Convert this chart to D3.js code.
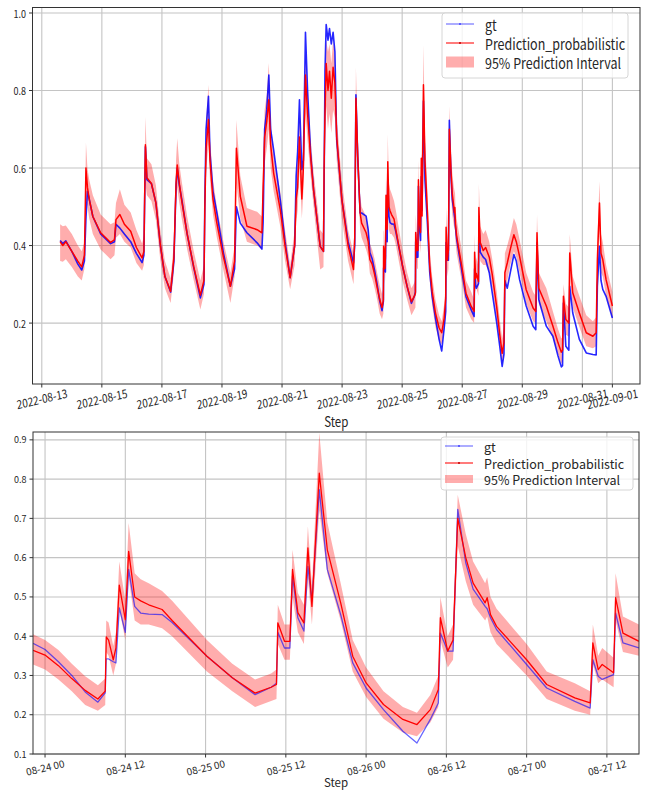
<!DOCTYPE html>
<html>
<head>
<meta charset="utf-8">
<script src="https://cdn.jsdelivr.net/npm/d3@7/dist/d3.min.js"></script>
<style>
  body { margin: 0; background: #fff; }
  svg { display: block; font-family: "Noto Sans CJK KR", "Noto Sans", sans-serif; }
</style>
</head>
<body>
<svg width="648" height="790"></svg>
<script>
// whole period, part 1: days since 2022-08-13 00:00
const earlyDays = [0.61, 0.70, 0.80, 1.00, 1.20, 1.33, 1.42, 1.47, 1.52, 1.58, 1.70, 1.96, 2.29, 2.42, 2.47, 2.60, 2.75, 2.96, 3.15, 3.34,
  3.40, 3.45, 3.50, 3.65, 3.80, 3.95, 4.10, 4.29, 4.40, 4.47, 4.51, 4.58, 4.66, 4.84, 5.06, 5.28, 5.40, 5.43, 5.47, 5.55,
  5.60, 5.70, 5.83, 6.05, 6.28, 6.42, 6.48, 6.61, 6.83, 7.17, 7.33, 7.37, 7.42, 7.49, 7.56, 7.62, 7.72, 7.94, 8.10, 8.27,
  8.42, 8.47, 8.52, 8.58, 8.66, 8.71, 8.78, 8.85, 8.95, 9.05, 9.27, 9.38, 9.40, 9.43, 9.47, 9.53, 9.58, 9.64, 9.70, 9.76,
  9.82, 9.99, 10.20, 10.38, 10.42, 10.46, 10.52, 10.60, 10.65, 10.80, 10.87];
const earlyGt = [0.413, 0.405, 0.412, 0.385, 0.352, 0.337, 0.360, 0.470, 0.540, 0.520, 0.475, 0.430, 0.405, 0.410, 0.455, 0.445, 0.430, 0.410, 0.380, 0.356,
  0.375, 0.655, 0.570, 0.560, 0.510, 0.400, 0.320, 0.280, 0.360, 0.550, 0.600, 0.555, 0.520, 0.430, 0.343, 0.265, 0.300, 0.520, 0.700, 0.785,
  0.640, 0.540, 0.484, 0.380, 0.295, 0.340, 0.500, 0.458, 0.433, 0.407, 0.391, 0.460, 0.700, 0.750, 0.840, 0.700, 0.647, 0.518, 0.410, 0.317,
  0.400, 0.580, 0.643, 0.776, 0.596, 0.620, 0.950, 0.800, 0.640, 0.544, 0.398, 0.385, 0.550, 0.850, 0.970, 0.930, 0.960, 0.920, 0.950, 0.900,
  0.673, 0.520, 0.410, 0.355, 0.400, 0.789, 0.630, 0.484, 0.484, 0.476, 0.440];
const earlyPred = [0.410, 0.400, 0.410, 0.385, 0.360, 0.345, 0.375, 0.600, 0.550, 0.520, 0.475, 0.433, 0.408, 0.415, 0.467, 0.480, 0.455, 0.437, 0.395, 0.368,
  0.385, 0.660, 0.575, 0.560, 0.510, 0.400, 0.320, 0.282, 0.370, 0.560, 0.608, 0.560, 0.515, 0.430, 0.345, 0.272, 0.310, 0.500, 0.650, 0.725,
  0.620, 0.520, 0.458, 0.370, 0.295, 0.360, 0.651, 0.527, 0.450, 0.441, 0.433, 0.550, 0.680, 0.720, 0.776, 0.660, 0.587, 0.493, 0.400, 0.317,
  0.400, 0.520, 0.550, 0.680, 0.520, 0.600, 0.840, 0.740, 0.630, 0.544, 0.398, 0.385, 0.600, 0.740, 0.870, 0.800, 0.850, 0.780, 0.860, 0.820,
  0.680, 0.520, 0.400, 0.338, 0.420, 0.780, 0.630, 0.484, 0.458, 0.433, 0.410];
const earlyLo = [0.360, 0.358, 0.365, 0.345, 0.320, 0.310, 0.340, 0.520, 0.500, 0.470, 0.430, 0.390, 0.365, 0.375, 0.420, 0.430, 0.410, 0.395, 0.355, 0.335,
  0.350, 0.560, 0.530, 0.515, 0.465, 0.360, 0.290, 0.252, 0.330, 0.500, 0.550, 0.510, 0.470, 0.390, 0.310, 0.235, 0.275, 0.450, 0.590, 0.660,
  0.570, 0.480, 0.420, 0.335, 0.252, 0.320, 0.560, 0.470, 0.410, 0.400, 0.390, 0.480, 0.610, 0.650, 0.700, 0.600, 0.540, 0.450, 0.360, 0.287,
  0.350, 0.460, 0.490, 0.600, 0.470, 0.540, 0.740, 0.670, 0.580, 0.500, 0.338, 0.345, 0.520, 0.660, 0.760, 0.700, 0.740, 0.690, 0.750, 0.730,
  0.620, 0.470, 0.360, 0.300, 0.370, 0.680, 0.570, 0.440, 0.420, 0.390, 0.370];
const earlyHi = [0.455, 0.450, 0.452, 0.430, 0.400, 0.385, 0.410, 0.665, 0.600, 0.570, 0.530, 0.480, 0.455, 0.460, 0.510, 0.545, 0.505, 0.485, 0.440, 0.405,
  0.425, 0.732, 0.625, 0.610, 0.555, 0.440, 0.360, 0.315, 0.410, 0.620, 0.677, 0.610, 0.565, 0.475, 0.385, 0.310, 0.350, 0.560, 0.720, 0.815,
  0.680, 0.570, 0.500, 0.410, 0.330, 0.400, 0.724, 0.580, 0.497, 0.487, 0.475, 0.610, 0.750, 0.790, 0.871, 0.720, 0.640, 0.540, 0.440, 0.350,
  0.440, 0.580, 0.610, 0.740, 0.580, 0.660, 0.900, 0.800, 0.680, 0.590, 0.440, 0.430, 0.660, 0.820, 0.930, 0.900, 0.920, 0.870, 0.930, 0.880,
  0.730, 0.570, 0.440, 0.380, 0.470, 0.860, 0.690, 0.530, 0.500, 0.475, 0.450];

// zoomed period (also used in the top panel): hours since 2022-08-24 00:00
const zoomHours = [-1.8, 0.0, 2.0, 4.0, 6.0, 7.9, 9.0, 9.15, 9.5, 10.2, 10.6, 11.1, 12.0, 12.5, 13.4, 14.3, 15.5, 17.5, 19.0, 24.2,
  28.0, 31.4, 33.8, 34.6, 34.8, 35.8, 36.6, 37.0, 37.8, 38.7, 39.3, 39.9, 41.0, 42.2, 44.2, 46.0, 48.0, 50.6, 53.5, 55.6,
  57.6, 58.8, 59.1, 60.2, 61.0, 61.7, 62.9, 64.0, 65.8, 66.1, 66.6, 67.5, 72.0, 75.0, 79.2, 81.5, 81.9, 82.7, 83.3, 85.0,
  85.3, 86.4, 88.8];
const zoomGt = [0.382, 0.366, 0.335, 0.300, 0.258, 0.232, 0.256, 0.342, 0.342, 0.335, 0.332, 0.472, 0.410, 0.570, 0.476, 0.459, 0.456, 0.455, 0.435, 0.349,
  0.294, 0.251, 0.270, 0.280, 0.410, 0.370, 0.370, 0.553, 0.447, 0.413, 0.578, 0.490, 0.773, 0.570, 0.455, 0.332, 0.268, 0.213, 0.158, 0.128,
  0.188, 0.230, 0.408, 0.362, 0.362, 0.723, 0.587, 0.520, 0.476, 0.470, 0.447, 0.417, 0.328, 0.268, 0.234, 0.217, 0.340, 0.298, 0.290, 0.302,
  0.459, 0.383, 0.370];
const zoomPred = [0.364, 0.352, 0.325, 0.292, 0.262, 0.240, 0.260, 0.398, 0.390, 0.340, 0.370, 0.530, 0.442, 0.616, 0.500, 0.490, 0.480, 0.468, 0.440, 0.349,
  0.294, 0.255, 0.270, 0.277, 0.434, 0.387, 0.387, 0.570, 0.460, 0.434, 0.625, 0.476, 0.815, 0.620, 0.485, 0.349, 0.281, 0.226, 0.188, 0.175,
  0.213, 0.264, 0.447, 0.362, 0.390, 0.700, 0.600, 0.535, 0.485, 0.498, 0.455, 0.425, 0.340, 0.277, 0.243, 0.230, 0.383, 0.315, 0.328, 0.307,
  0.498, 0.408, 0.387];
const zoomLo = [0.328, 0.315, 0.290, 0.260, 0.225, 0.210, 0.225, 0.360, 0.350, 0.300, 0.330, 0.470, 0.390, 0.550, 0.440, 0.430, 0.430, 0.420, 0.400, 0.310,
  0.260, 0.220, 0.235, 0.240, 0.380, 0.340, 0.340, 0.500, 0.410, 0.380, 0.550, 0.430, 0.720, 0.560, 0.440, 0.310, 0.245, 0.190, 0.155, 0.145,
  0.180, 0.220, 0.390, 0.320, 0.340, 0.630, 0.540, 0.480, 0.440, 0.450, 0.410, 0.380, 0.300, 0.240, 0.210, 0.200, 0.330, 0.280, 0.290, 0.270,
  0.440, 0.360, 0.350];
const zoomHi = [0.405, 0.390, 0.365, 0.330, 0.298, 0.275, 0.292, 0.440, 0.435, 0.375, 0.410, 0.590, 0.490, 0.688, 0.560, 0.545, 0.535, 0.515, 0.490, 0.390,
  0.330, 0.290, 0.305, 0.315, 0.480, 0.430, 0.430, 0.620, 0.510, 0.480, 0.680, 0.530, 0.918, 0.690, 0.535, 0.390, 0.320, 0.260, 0.220, 0.205,
  0.250, 0.300, 0.500, 0.400, 0.430, 0.760, 0.660, 0.590, 0.535, 0.550, 0.500, 0.470, 0.380, 0.310, 0.280, 0.260, 0.430, 0.350, 0.370, 0.345,
  0.560, 0.450, 0.430];

// whole period, part 3: days since 2022-08-13 00:00
const lateDays = [14.78, 14.90, 15.00, 15.15, 15.25, 15.33, 15.39, 15.42, 15.50, 15.60, 15.72, 15.80, 15.91, 16.13, 16.36, 16.45, 16.49, 16.55, 16.80, 17.02,
  17.19, 17.30, 17.34, 17.37, 17.45, 17.55, 17.58, 17.68, 17.90, 18.13, 18.35, 18.46, 18.50, 18.57, 18.62, 18.68, 18.79, 19.00];
const lateGt = [0.364, 0.330, 0.278, 0.200, 0.140, 0.088, 0.120, 0.310, 0.290, 0.330, 0.377, 0.360, 0.312, 0.244, 0.192, 0.183, 0.407, 0.260, 0.192, 0.166,
  0.115, 0.087, 0.090, 0.252, 0.140, 0.130, 0.295, 0.226, 0.158, 0.123, 0.119, 0.118, 0.295, 0.398, 0.310, 0.287, 0.269, 0.213];
const latePred = [0.395, 0.370, 0.325, 0.240, 0.170, 0.122, 0.150, 0.330, 0.355, 0.390, 0.428, 0.410, 0.372, 0.286, 0.239, 0.230, 0.433, 0.290, 0.244, 0.192,
  0.149, 0.125, 0.130, 0.269, 0.209, 0.200, 0.381, 0.278, 0.226, 0.175, 0.166, 0.175, 0.364, 0.510, 0.380, 0.364, 0.312, 0.244];
const lateLo = [0.350, 0.330, 0.290, 0.205, 0.140, 0.095, 0.120, 0.290, 0.310, 0.350, 0.385, 0.370, 0.330, 0.250, 0.205, 0.200, 0.380, 0.250, 0.205, 0.160,
  0.120, 0.095, 0.100, 0.220, 0.170, 0.165, 0.320, 0.240, 0.190, 0.140, 0.135, 0.140, 0.310, 0.440, 0.330, 0.320, 0.270, 0.210];
const lateHi = [0.440, 0.410, 0.365, 0.280, 0.210, 0.160, 0.190, 0.380, 0.400, 0.430, 0.471, 0.455, 0.415, 0.330, 0.280, 0.270, 0.480, 0.330, 0.290, 0.230,
  0.185, 0.160, 0.165, 0.300, 0.250, 0.240, 0.430, 0.320, 0.270, 0.220, 0.205, 0.215, 0.410, 0.566, 0.430, 0.410, 0.350, 0.280];

const topTickLabels = ["2022-08-13", "2022-08-15", "2022-08-17", "2022-08-19", "2022-08-21", "2022-08-23",
  "2022-08-25", "2022-08-27", "2022-08-29", "2022-08-31", "2022-09-01"];
const zoomTickLabels = ["08-24 00", "08-24 12", "08-25 00", "08-25 12", "08-26 00", "08-26 12", "08-27 00", "08-27 12"];
const topYTicks = [0.2, 0.4, 0.6, 0.8, 1.0];
const zoomYTicks = [0.1, 0.2, 0.3, 0.4, 0.5, 0.6, 0.7, 0.8, 0.9];
const zoomYLimits = [0.1, 0.92];
const legendLabels = ["gt", "Prediction_probabilistic", "95% Prediction Interval"];

const svg = d3.select("svg");
const parseDay = d3.timeParse("%Y-%m-%d");
const parseHour = d3.timeParse("%Y-%m-%d %H");

function toRows(origin, hoursPerUnit, t, gt, pred, lo, hi) {
    return t.map((v, i) => ({
        date: new Date(+origin + v * hoursPerUnit * 3600e3),
        gt: gt[i], pred: pred[i], lo: lo[i], hi: hi[i]
    }));
}

const zoomRows = toRows(parseDay("2022-08-24"), 1, zoomHours, zoomGt, zoomPred, zoomLo, zoomHi);
const topRows = toRows(parseDay("2022-08-13"), 24, earlyDays, earlyGt, earlyPred, earlyLo, earlyHi)
    .concat(zoomRows, toRows(parseDay("2022-08-13"), 24, lateDays, lateGt, latePred, lateLo, lateHi));

// matplotlib style 5% margins for the full view
function padded(ext) {
    const m = (ext[1] - ext[0]) * 0.05;
    return [ext[0] - m, ext[1] + m];
}
const topDates = d3.extent(topRows, d => d.date);
const topXDomain = padded(topDates.map(Number)).map(v => new Date(v));
const topYDomain = padded(d3.extent(topRows.flatMap(d => [d.gt, d.pred, d.lo, d.hi])));

const panels = [
    {
        rows: topRows, xDomain: topXDomain, yDomain: topYDomain,
        left: 32.5, right: 640, top: 7.5, bottom: 384,
        xTicks: topTickLabels.map(s => ({ date: parseDay(s), text: s })),
        yTicks: topYTicks, sy: 1.2, rot: 11, labelGap: 14, xLabelY: 421,
        gtWidth: 1.6, gtOpacity: 0.85, predWidth: 1.5,
        legend: { x: 442, y: 13, w: 186, h: 65, rows: [24, 43, 62], patchH: 11 }
    },
    {
        rows: zoomRows, xDomain: d3.extent(zoomRows, d => d.date), yDomain: zoomYLimits,
        left: 33, right: 639, top: 432, bottom: 754,
        xTicks: zoomTickLabels.map(s => ({ date: parseHour("2022-" + s), text: s })),
        yTicks: zoomYTicks, sy: 1, rot: 13, labelGap: 13, xLabelY: 782,
        gtWidth: 1.3, gtOpacity: 0.6, predWidth: 1.3,
        legend: { x: 441, y: 437, w: 192, h: 53, rows: [446, 463, 479], patchH: 8 }
    }
];

function putText(g, x, y, str, size, sy, rot, anchor) {
    return g.append("text")
        .attr("transform", `translate(${x},${y}) scale(1,${sy}) rotate(${-rot})`)
        .attr("text-anchor", anchor)
        .attr("dominant-baseline", "central")
        .attr("font-size", size)
        .attr("fill", "#262626")
        .text(str);
}

function drawPanel(p, idx) {
    const g = svg.append("g");
    const x = d3.scaleTime().domain(p.xDomain).range([p.left, p.right]);
    const y = d3.scaleLinear().domain(p.yDomain).range([p.bottom, p.top]);

    g.append("clipPath").attr("id", "clip" + idx)
        .append("rect")
        .attr("x", p.left).attr("y", p.top)
        .attr("width", p.right - p.left).attr("height", p.bottom - p.top);

    // grid
    g.selectAll(".gx")
        .data(p.xTicks)
        .enter()
        .append("line")
        .attr("x1", d => x(d.date)).attr("x2", d => x(d.date))
        .attr("y1", p.top).attr("y2", p.bottom)
        .attr("stroke", "#c4c4c4").attr("stroke-width", 1.1);
    g.selectAll(".gy")
        .data(p.yTicks)
        .enter()
        .append("line")
        .attr("x1", p.left).attr("x2", p.right)
        .attr("y1", d => y(d)).attr("y2", d => y(d))
        .attr("stroke", "#c4c4c4").attr("stroke-width", 1.1);

    const plot = g.append("g").attr("clip-path", `url(#clip${idx})`);
    plot.append("path")
        .datum(p.rows)
        .attr("d", d3.area().x(d => x(d.date)).y0(d => y(d.lo)).y1(d => y(d.hi)))
        .attr("fill", "#ff0000").attr("fill-opacity", 0.32);
    plot.append("path")
        .datum(p.rows)
        .attr("d", d3.line().x(d => x(d.date)).y(d => y(d.gt)))
        .attr("fill", "none").attr("stroke", "#0000ff")
        .attr("stroke-opacity", p.gtOpacity).attr("stroke-width", p.gtWidth)
        .attr("stroke-linejoin", "round");
    plot.append("path")
        .datum(p.rows)
        .attr("d", d3.line().x(d => x(d.date)).y(d => y(d.pred)))
        .attr("fill", "none").attr("stroke", "#ff0000")
        .attr("stroke-width", p.predWidth)
        .attr("stroke-linejoin", "round");

    // spines
    g.append("rect")
        .attr("x", p.left).attr("y", p.top)
        .attr("width", p.right - p.left).attr("height", p.bottom - p.top)
        .attr("fill", "none").attr("stroke", "#333").attr("stroke-width", 1);

    // ticks and labels
    p.xTicks.forEach(t => {
        const tx = x(t.date);
        g.append("line")
            .attr("x1", tx).attr("x2", tx)
            .attr("y1", p.bottom).attr("y2", p.bottom + 3.5)
            .attr("stroke", "#333");
        putText(g, tx, p.bottom + p.labelGap, t.text, 10, p.sy, p.rot, "middle");
    });
    p.yTicks.forEach(v => {
        g.append("line")
            .attr("x1", p.left - 3.5).attr("x2", p.left)
            .attr("y1", y(v)).attr("y2", y(v))
            .attr("stroke", "#333");
        putText(g, p.left - 6.5, y(v), v.toFixed(1), 9, p.sy, 0, "end");
    });
    putText(g, (p.left + p.right) / 2, p.xLabelY, "Step", 11.5, p.sy, 0, "middle");

    // legend
    const L = p.legend;
    g.append("rect")
        .attr("x", L.x).attr("y", L.y).attr("width", L.w).attr("height", L.h)
        .attr("rx", 3)
        .attr("fill", "#fff").attr("fill-opacity", 0.8)
        .attr("stroke", "#d6d6d6").attr("stroke-width", 1);
    const hx0 = L.x + 4, hx1 = L.x + 32;
    g.append("line")
        .attr("x1", hx0).attr("x2", hx1).attr("y1", L.rows[0]).attr("y2", L.rows[0])
        .attr("stroke", "#0000ff").attr("stroke-opacity", 0.5).attr("stroke-width", 1.3);
    g.append("circle").attr("cx", (hx0 + hx1) / 2).attr("cy", L.rows[0]).attr("r", 1)
        .attr("fill", "#0000ff").attr("fill-opacity", 0.6);
    g.append("line")
        .attr("x1", hx0).attr("x2", hx1).attr("y1", L.rows[1]).attr("y2", L.rows[1])
        .attr("stroke", "#ff0000").attr("stroke-opacity", 0.8).attr("stroke-width", 1.3);
    g.append("circle").attr("cx", (hx0 + hx1) / 2).attr("cy", L.rows[1]).attr("r", 1)
        .attr("fill", "#c00000");
    g.append("rect")
        .attr("x", hx0).attr("y", L.rows[2] - L.patchH / 2)
        .attr("width", hx1 - hx0).attr("height", L.patchH)
        .attr("fill", "#ff0000").attr("fill-opacity", 0.32);
    legendLabels.forEach((s, i) => {
        putText(g, L.x + 43, L.rows[i], s, 12.5, p.sy, 0, "start");
    });
}

panels.forEach(drawPanel);
</script>
</body>
</html>
